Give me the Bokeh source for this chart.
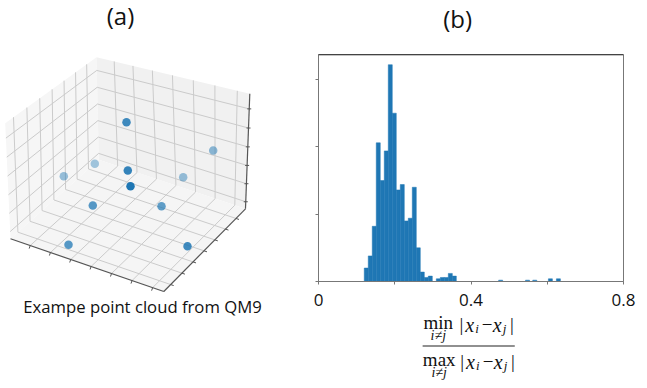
import numpy as np
from bokeh.plotting import figure
from bokeh.layouts import row, column
from bokeh.models import Range1d, FixedTicker, Span
from bokeh.core.properties import value
from bokeh.embed import file_html
from bokeh.resources import INLINE

# ---------- histogram data (panel b) ----------
bin_width = 0.0105
bin_left = [0.120, 0.1305, 0.141, 0.1515, 0.162, 0.1725, 0.183, 0.1935, 0.204, 0.2145, 0.225, 0.2355,
            0.246, 0.2565, 0.267, 0.2775, 0.288, 0.3090, 0.3195, 0.330, 0.3405, 0.351,
            0.4725, 0.5430, 0.5620, 0.6030, 0.6240]
bin_count = [10, 19, 41, 103, 75, 97, 161, 125, 68, 72, 45, 47,
             70, 25, 7, 3, 4, 2, 3, 3, 6, 4,
             1, 1, 1, 2, 2]
y_ticks = [0, 50, 100, 150]
x_labelled = [0, 0.4, 0.8]
x_unlabelled = [0.2, 0.6]
x_tick_labels = {0: "0", 0.4: "0.4", 0.8: "0.8"}

# ---------- point cloud (panel a) ----------
cloud_x = [126, 212.7, 94.3, 63.3, 127.3, 182.7, 130, 92.3, 161, 68, 187]
cloud_y = [121.7, 150, 163.3, 175.7, 170, 176.7, 185.7, 205, 205.7, 244.3, 245.7]
cloud_alpha = [0.85, 0.5, 0.4, 0.45, 0.9, 0.45, 1.0, 0.75, 0.7, 0.75, 0.85]

# cube corners of the 3D box
front_left = (10, 238.3)
front_mid = (163.3, 291)
right_base = (245, 208.3)
back_base = (98.3, 159.3)
back_top = (96, 56.7)
left_top = (4.7, 122.7)
right_top = (249.3, 93.3)
u_grid = [0.13, 0.263, 0.396, 0.529, 0.662, 0.795, 0.928]
v_grid = [0.08, 0.213, 0.346, 0.479, 0.612, 0.745, 0.878]
w_grid = [0.064, 0.226, 0.388, 0.55, 0.712, 0.874]


def homography(p00, p10, p11, p01):
    src = [(0, 0), (1, 0), (1, 1), (0, 1)]
    dst = [p00, p10, p11, p01]
    A, b = [], []
    for (u, v), (x, y) in zip(src, dst):
        A.append([u, v, 1, 0, 0, 0, -u * x, -v * x]); b.append(x)
        A.append([0, 0, 0, u, v, 1, -u * y, -v * y]); b.append(y)
    h = np.linalg.solve(np.array(A, float), np.array(b, float))
    def f(u, v):
        d = h[6] * u + h[7] * v + 1
        return (h[0] * u + h[1] * v + h[2]) / d, (h[3] * u + h[4] * v + h[5]) / d
    return f


floor = homography(front_left, front_mid, right_base, back_base)
lwall = homography(front_left, back_base, back_top, left_top)
rwall = homography(back_base, right_base, right_top, back_top)


def pane_figure(w, h, x0, x1, y0, y1):
    f = figure(width=w, height=h, x_range=Range1d(x0, x1), y_range=Range1d(y1, y0),
               output_backend="svg", toolbar_location=None, min_border=0,
               outline_line_color=None, x_axis_location=None, y_axis_location=None)
    f.grid.visible = False
    return f


# ---------- left panel ----------
a = pane_figure(308, 380, 0, 308, 0, 380)
for corners, col in [((left_top, back_top, back_base, front_left), "#f6f6f6"),
                     ((back_top, right_top, right_base, back_base), "#f1f1f1"),
                     ((front_left, back_base, right_base, front_mid), "#f5f5f5")]:
    a.patch([c[0] for c in corners], [c[1] for c in corners], fill_color=col, line_color=None)

xs, ys = [], []
for u in u_grid:
    p, q, r = floor(u, 0), floor(u, 1), rwall(u, 1)
    xs.append([p[0], q[0], r[0]]); ys.append([p[1], q[1], r[1]])
for v in v_grid:
    p, q, r = floor(1, v), floor(0, v), lwall(v, 1)
    xs.append([p[0], q[0], r[0]]); ys.append([p[1], q[1], r[1]])
for w in w_grid:
    p, q, r = lwall(0, w), lwall(1, w), rwall(1, w)
    xs.append([p[0], q[0], r[0]]); ys.append([p[1], q[1], r[1]])
a.multi_line(xs, ys, line_color="#cbcbcb", line_width=1)

# box edges and ticks
for p, q in [(front_left, front_mid), (front_mid, right_base), (right_base, right_top)]:
    a.line([p[0], q[0]], [p[1], q[1]], line_color="#555555", line_width=1.2)
tx, ty = [], []
for u in u_grid:
    p = floor(u, 0); tx.append([p[0], p[0] - 1]); ty.append([p[1], p[1] + 3])
for v in v_grid:
    p = floor(1, v); tx.append([p[0], p[0] + 3]); ty.append([p[1], p[1] + 1])
for w in w_grid:
    p = rwall(1, w); tx.append([p[0] - 2, p[0] + 2]); ty.append([p[1], p[1]])
a.multi_line(tx, ty, line_color="#555555", line_width=1)

a.scatter(cloud_x, cloud_y, size=8.5, fill_color="#1f77b4", fill_alpha=cloud_alpha, line_color=None)
a.text([120], [15], text=["(a)"], text_font=value("Open Sans"), text_font_size="24px",
       text_align="center", text_baseline="middle", text_color="#111111")
a.text([142], [306], text=["Exampe point cloud from QM9"], text_font=value("Open Sans"),
       text_font_size="16.7px", text_align="center", text_baseline="middle", text_color="#111111")

# ---------- right panel: header ----------
head = pane_figure(331, 54, 308, 639, 0, 54)
head.text([459], [18], text=["(b)"], text_font=value("Open Sans"), text_font_size="24px",
          text_align="center", text_baseline="middle", text_color="#111111")

# ---------- right panel: histogram ----------
b = figure(width=331, height=258, x_range=Range1d(0, 0.8), y_range=Range1d(0, 168.6),
           output_backend="svg", toolbar_location=None, min_border_left=10, min_border_right=16,
           min_border_top=0, min_border_bottom=31, outline_line_color="#777777")
b.grid.visible = False
b.quad(left=bin_left, right=[l + bin_width for l in bin_left], bottom=0, top=bin_count,
       fill_color="#1f77b4", line_color="#1f77b4", line_width=0.5)
b.add_layout(Span(location=168.6, dimension="width", line_color="#111111", line_width=1.5))
b.xaxis.ticker = FixedTicker(ticks=x_labelled, minor_ticks=x_unlabelled)
b.xaxis.major_label_overrides = x_tick_labels
b.xaxis.major_label_text_font = "Open Sans"
b.xaxis.major_label_text_font_size = "17px"
b.xaxis.major_label_text_color = "#111111"
b.xaxis.major_label_standoff = 9
b.yaxis.ticker = FixedTicker(ticks=[], minor_ticks=y_ticks)
for ax in (b.xaxis[0], b.yaxis[0]):
    ax.axis_line_color = "#777777"
    ax.major_tick_line_color = "#777777"
    ax.major_tick_in = 0
    ax.major_tick_out = 3
    ax.minor_tick_line_color = "#777777"
    ax.minor_tick_in = 0
    ax.minor_tick_out = 3

# ---------- right panel: formula ----------
fm = pane_figure(331, 68, 308, 639, 312, 380)
serif = value("Liberation Serif")
def t(x, y, s, size, style="normal", align="center"):
    fm.text([x], [y], text=[s], text_font=serif, text_font_size=size, text_font_style=style,
            text_align=align, text_baseline="middle", text_color="#111111")

fm.segment([421], [345.5], [521], [345.5], line_color="#222222", line_width=1.2)
for op, cy, dx in [("min", 322, 0), ("max", 359, 1)]:
    t(438 + dx, cy, op, "19px")
    t(438 + dx, cy + 13, "i≠j", "14px", "italic")
    x0 = 463 + dx
    t(x0, cy + 2, "|", "19px")
    t(x0 + 9, cy + 2, "x", "20px", "italic")
    t(x0 + 17, cy + 6, "i", "13px", "italic")
    t(x0 + 28, cy + 2, "−", "19px")
    t(x0 + 39, cy + 2, "x", "20px", "italic")
    t(x0 + 47, cy + 6, "j", "13px", "italic")
    t(x0 + 55, cy + 2, "|", "19px")

page = row(a, column(head, b, fm, spacing=0), spacing=0)
open("out.html", "w").write(file_html(page, INLINE))
